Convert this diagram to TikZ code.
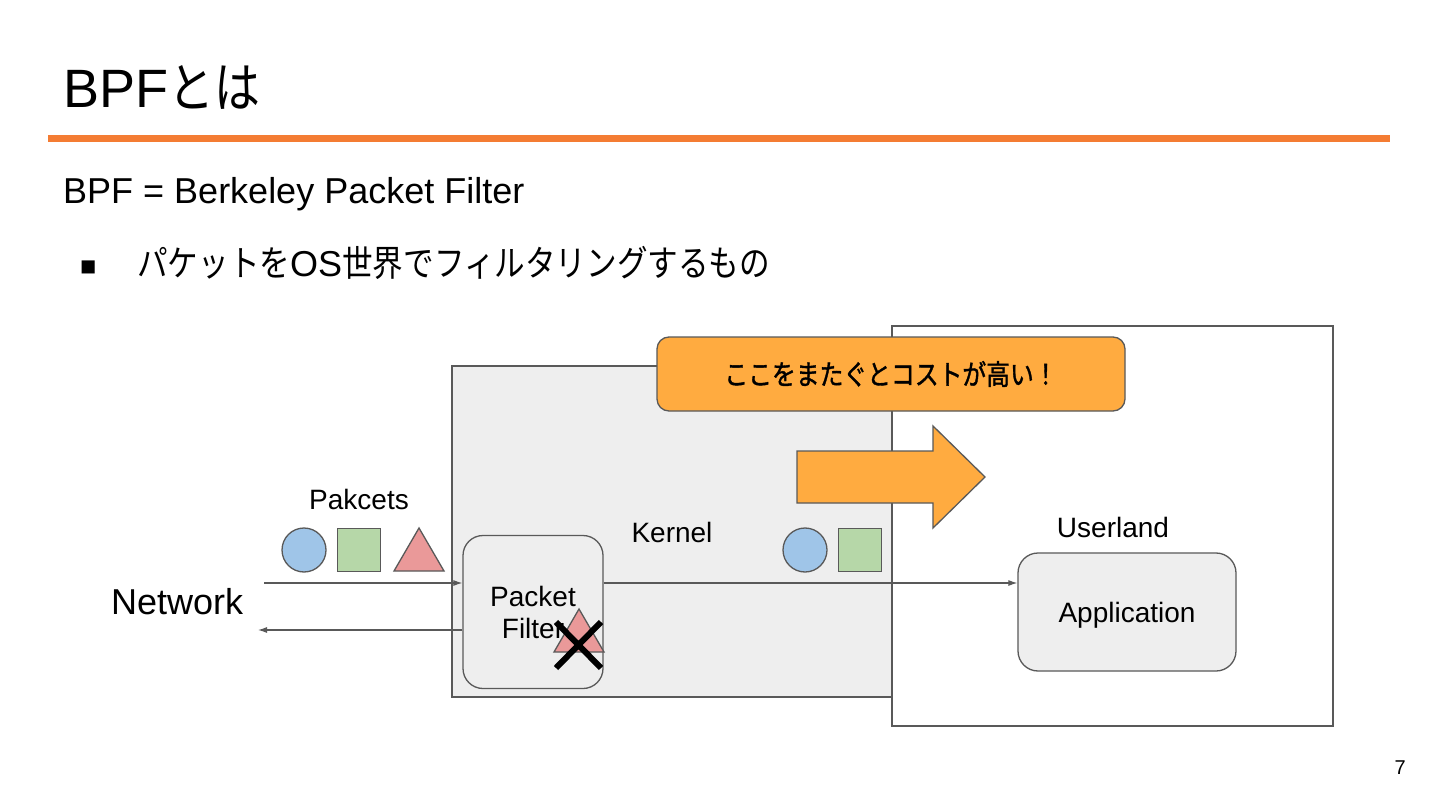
\documentclass[tikz,border=0pt]{standalone}
\usepackage{fontspec}
\setmainfont{Liberation Sans}
\newfontfamily\jp[FakeStretch=0.85]{Noto Sans CJK JP}
\newfontfamily\jpheavy[FakeStretch=0.85, FakeBold=1.3]{Noto Sans CJK JP}
\usetikzlibrary{arrows.meta,positioning}
\definecolor{edgegray}{HTML}{595959}
\definecolor{boxgray}{HTML}{EEEEEE}
\definecolor{calloutorange}{HTML}{FFAB40}
\definecolor{ruleorange}{HTML}{F47C33}
\definecolor{pktblue}{HTML}{9FC5E8}
\definecolor{pktgreen}{HTML}{B6D7A8}
\definecolor{pktred}{HTML}{EA9999}
\newcommand{\px}[1]{\fontsize{#1}{1.15\dimexpr#1pt\relax}\selectfont}
\tikzset{
  layer/.style={draw=edgegray, line width=1.3pt},
  rbox/.style={draw=edgegray, fill=boxgray, line width=1.3pt,
    rounded corners=20pt, inner sep=0pt, align=center},
  pkt/.style={draw=edgegray, line width=1.3pt, inner sep=0pt},
  flow/.style={draw=edgegray, line width=1.1pt, -{Latex[length=9pt,width=6pt]}},
  lbl/.style={inner sep=0pt, anchor=base},
  txt/.style={inner sep=0pt, anchor=base west},
}
\begin{document}
\begin{tikzpicture}[x=1pt, y=-1pt]
  \useasboundingbox[fill=white] (0,0) rectangle (1440,810);
  % heading
  \node[txt] (title) at (63,108) {\px{54}BPF{\jp とは}};
  \fill[ruleorange] (48,135) rectangle (1390,142);
  \node[txt] (defn) at (63,204) {\px{36}BPF = Berkeley Packet Filter};
  \node[txt] (bullet) at (80,276) {\px{27}■};
  \node[txt] (point) at (137,277) {\px{36}{\jp パケットを}OS{\jp 世界でフィルタリングするもの}};
  % kernel / userland
  \draw[layer, fill=boxgray] (452,366) rectangle (892,697);
  \draw[layer] (892,326) rectangle (1333,726);
  \node[lbl] (kernel) at (672,542) {\px{28}Kernel};
  \node[lbl] (user) at (1113,537) {\px{28}Userland};
  \node[rbox, minimum width=140pt, minimum height=153pt,
    font=\fontsize{28}{32}\selectfont] (pf) at (533,612) {Packet\\Filter};
  \node[rbox, minimum width=218pt, minimum height=118pt, text depth=0pt,
    font=\px{28}] (app) at (1127,612) {Application};
  % crossing cost
  \node[rbox, fill=calloutorange, rounded corners=12pt, minimum width=468pt,
    minimum height=74pt] (cost) at (891,374) {\px{28}\jpheavy ここをまたぐとコストが高い！};
  \draw[layer, fill=calloutorange]
    (797,451) -- (933,451) -- (933,426) -- (985,477) -- (933,528)
    -- (933,503) -- (797,503) -- cycle;
  % packets
  \node[lbl] (pakcets) at (359,509) {\px{28}Pakcets};
  \foreach \x/\n in {304/net, 805/kern}{
    \node[pkt, circle, fill=pktblue, minimum size=44pt] (circ-\n) at (\x,550) {};
    \node[pkt, fill=pktgreen, minimum size=43pt, right=10.5pt of circ-\n] (sq-\n) {};
  }
  \foreach \x/\y in {394/571, 554/652}
    \draw[pkt, fill=pktred] (\x,\y) -- ++(50,0) -- ++(-25,-43) -- cycle;
  \draw[black, line width=6pt] (556,622) -- (601,668) (601,622) -- (556,668);
  % network side
  \node[txt] (net) at (111,614) {\px{36}Network};
  \coordinate (wirein) at (264,583);
  \coordinate (wireout) at (258,630);
  \draw[flow] (wirein) -- (wirein -| pf.west);
  \draw[flow] (wireout -| pf.west) -- (wireout);
  \draw[flow] (wirein -| pf.east) -- (wirein -| app.west);
  \node[anchor=base east, inner sep=0pt] (pageno) at (1406,774) {\px{20}7};
\end{tikzpicture}
\end{document}
